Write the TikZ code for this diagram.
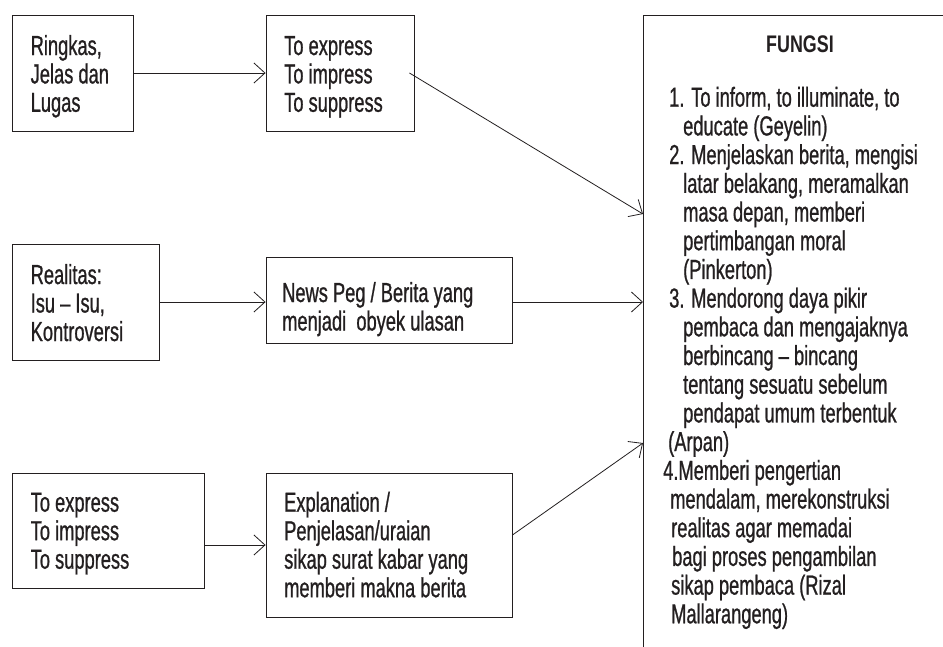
\documentclass[tikz,border=0pt]{standalone}
\usepackage{fontspec}
\newfontfamily\bodyfont{Liberation Sans}[FakeStretch=0.665, RawFeature={embolden=0.8}]
\newfontfamily\headfont{Liberation Sans}[FakeStretch=0.745]
\usetikzlibrary{arrows.meta}
\definecolor{ink}{RGB}{35,31,32}
\begin{document}
\begin{tikzpicture}[x=1pt,y=-1pt,
  box/.style={draw=ink, line width=0.9pt, inner sep=0pt},
  txt/.style={anchor=base west, inner sep=0pt, text=ink, font=\bodyfont\fontsize{27.5}{28.7}\selectfont},
  conn/.style={draw=ink, line width=0.8pt, -{Straight Barb[length=11pt,width=20pt]}}]
\useasboundingbox (0,0) rectangle (943,646);
\clip (0,0) rectangle (943,646);
\fill[white] (0,0) rectangle (943,646);
% boxes
\node[box, minimum width=121pt, minimum height=116pt] (b1) at (72.5,73) {};
\node[box, minimum width=148pt, minimum height=116pt] (b2) at (340,73) {};
\node[box, minimum width=147pt, minimum height=116pt] (b3) at (85.5,302) {};
\node[box, minimum width=246pt, minimum height=86pt] (b4) at (389,300) {};
\node[box, minimum width=192pt, minimum height=115pt] (b5) at (108,530.5) {};
\node[box, minimum width=246pt, minimum height=144pt] (b6) at (389,545) {};
\node[box, minimum width=320pt, minimum height=700pt, anchor=north west] (F) at (643,15) {};
% texts
\foreach \t [count=\i] in {{Ringkas,},{Jelas dan},{Lugas}}
  \node[txt] (t1\i) at (30.5,{55+(\i-1)*28.4}) {\t};
\foreach \t [count=\i] in {{To express},{To impress},{To suppress}}
  \node[txt] (t2\i) at (284,{55+(\i-1)*28.4}) {\t};
\foreach \t [count=\i] in {{Realitas:},{Isu – Isu,},{Kontroversi}}
  \node[txt] (t3\i) at (30.5,{284+(\i-1)*28.5}) {\t};
\foreach \t [count=\i] in {{News Peg / Berita yang},{menjadi\ \ obyek ulasan}}
  \node[txt] (t4\i) at (282,{302+(\i-1)*28.5}) {\t};
\foreach \t [count=\i] in {{To express},{To impress},{To suppress}}
  \node[txt] (t5\i) at (30.5,{511.7+(\i-1)*28.5}) {\t};
\foreach \t [count=\i] in {{Explanation /},{Penjelasan/uraian},{sikap surat kabar yang},{memberi makna berita}}
  \node[txt] (t6\i) at (284,{511.7+(\i-1)*28.5}) {\t};
\node[txt, anchor=base, font=\headfont\bfseries\fontsize{24}{28}\selectfont] (fh) at (800,52.3) {FUNGSI};
\foreach \dx/\t [count=\i] in {
  669/{1. To inform, to illuminate, to},
  683/{educate (Geyelin)},
  669/{2. Menjelaskan berita, mengisi},
  683/{latar belakang, meramalkan},
  683/{masa depan, memberi},
  683/{pertimbangan moral},
  683/{(Pinkerton)},
  669/{3. Mendorong daya pikir},
  683/{pembaca dan mengajaknya},
  683/{berbincang – bincang},
  683/{tentang sesuatu sebelum},
  683/{pendapat umum terbentuk},
  668/{(Arpan)},
  663/{4.Memberi pengertian},
  670/{mendalam, merekonstruksi},
  671/{realitas agar memadai},
  672/{bagi proses pengambilan},
  671/{sikap pembaca (Rizal},
  671/{Mallarangeng)}}
  \node[txt] (f\i) at (\dx,{106.7+(\i-1)*28.7}) {\t};
% connectors
\coordinate (F1) at (643,214);
\coordinate (F2) at (643,302);
\coordinate (F3) at (643,443);
\draw[conn] (b1.east) -- (b2.west);
\draw[conn] ([xshift=-5pt]b2.east) -- (F1);
\draw[conn] (b3.east) -- (b3.east -| b4.west);
\draw[conn] (b4.east |- F2) -- (F2);
\draw[conn] (b5.east |- b6.west) -- (b6.west);
\draw[conn] ([yshift=10pt]b6.east) -- (F3);
\end{tikzpicture}
\end{document}
